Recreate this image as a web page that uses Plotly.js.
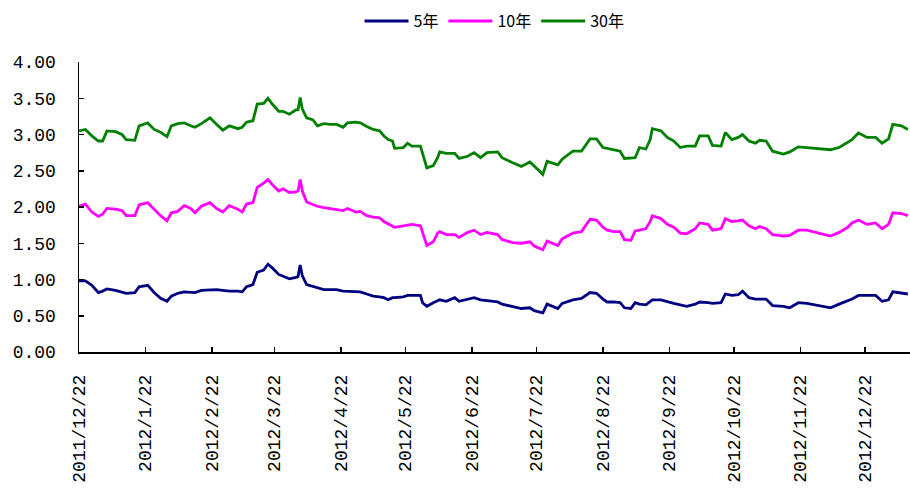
<!DOCTYPE html>
<html>
<head>
<meta charset="utf-8">
<script src="https://cdn.plot.ly/plotly-3.0.1.min.js"></script>
<style>html,body{margin:0;padding:0;background:#fff;}#chart{width:910px;height:488px;}</style>
</head>
<body>
<div id="chart"></div>
<script>
const dates = [
"2011-12-22","2011-12-25","2011-12-28","2011-12-31","2012-01-02","2012-01-04","2012-01-08","2012-01-11","2012-01-13","2012-01-17",
"2012-01-19","2012-01-23","2012-01-26","2012-01-29","2012-02-01","2012-02-03","2012-02-06","2012-02-09","2012-02-12","2012-02-14",
"2012-02-17","2012-02-21","2012-02-24","2012-02-27","2012-03-01","2012-03-05","2012-03-07","2012-03-09","2012-03-12","2012-03-14",
"2012-03-17","2012-03-19","2012-03-21","2012-03-24","2012-03-26","2012-03-29","2012-04-01","2012-04-02","2012-04-03","2012-04-04",
"2012-04-06","2012-04-09","2012-04-11","2012-04-14","2012-04-17","2012-04-20","2012-04-23","2012-04-25","2012-04-29","2012-05-01",
"2012-05-04","2012-05-07","2012-05-10","2012-05-12","2012-05-14","2012-05-16","2012-05-17","2012-05-21","2012-05-23","2012-05-25",
"2012-05-29","2012-05-30","2012-06-01","2012-06-04","2012-06-06","2012-06-07","2012-06-10","2012-06-14","2012-06-16","2012-06-20",
"2012-06-23","2012-06-26","2012-06-29","2012-07-04","2012-07-06","2012-07-11","2012-07-15","2012-07-19","2012-07-21","2012-07-25",
"2012-07-27","2012-08-01","2012-08-03","2012-08-08","2012-08-12","2012-08-16","2012-08-19","2012-08-22","2012-08-24","2012-08-27",
"2012-08-30","2012-09-01","2012-09-04","2012-09-06","2012-09-08","2012-09-11","2012-09-13","2012-09-14","2012-09-18","2012-09-21",
"2012-09-24","2012-09-27","2012-09-30","2012-10-04","2012-10-06","2012-10-10","2012-10-12","2012-10-16","2012-10-18","2012-10-21",
"2012-10-24","2012-10-26","2012-10-29","2012-11-01","2012-11-03","2012-11-06","2012-11-09","2012-11-14","2012-11-17","2012-11-21",
"2012-11-25","2012-11-30","2012-12-06","2012-12-10","2012-12-14","2012-12-16","2012-12-19","2012-12-23","2012-12-27","2012-12-30",
"2013-01-02","2013-01-04","2013-01-08","2013-01-11"
];
const y5 = [
0.98,0.98,0.92,0.82,0.84,0.87,0.85,0.83,0.81,0.82,
0.90,0.92,0.82,0.74,0.70,0.77,0.81,0.83,0.83,0.82,
0.85,0.86,0.86,0.85,0.84,0.84,0.83,0.90,0.93,1.10,
1.13,1.21,1.16,1.07,1.05,1.01,1.03,1.04,1.20,1.05,
0.93,0.90,0.89,0.86,0.86,0.86,0.84,0.84,0.83,0.83,
0.80,0.77,0.76,0.75,0.72,0.75,0.75,0.76,0.78,0.78,
0.78,0.68,0.63,0.68,0.71,0.72,0.70,0.75,0.70,0.73,
0.75,0.72,0.71,0.69,0.66,0.63,0.60,0.61,0.57,0.54,
0.66,0.60,0.67,0.72,0.74,0.82,0.81,0.73,0.69,0.69,
0.68,0.61,0.60,0.68,0.66,0.65,0.70,0.72,0.72,0.69,
0.67,0.65,0.63,0.66,0.69,0.68,0.67,0.68,0.80,0.78,
0.79,0.84,0.75,0.73,0.73,0.73,0.64,0.63,0.61,0.68,
0.67,0.64,0.61,0.66,0.70,0.73,0.78,0.78,0.78,0.70,
0.72,0.83,0.81,0.80
];
const y10 = [
2.01,2.04,1.93,1.87,1.90,1.98,1.97,1.95,1.88,1.88,
2.03,2.06,1.97,1.88,1.81,1.92,1.94,2.02,1.98,1.92,
2.01,2.06,1.98,1.93,2.02,1.97,1.93,2.04,2.06,2.27,
2.33,2.38,2.31,2.22,2.25,2.20,2.21,2.22,2.38,2.22,
2.07,2.03,2.01,1.99,1.98,1.97,1.95,1.98,1.93,1.94,
1.88,1.86,1.85,1.80,1.77,1.74,1.72,1.74,1.75,1.76,
1.74,1.65,1.47,1.52,1.64,1.66,1.62,1.62,1.58,1.65,
1.68,1.62,1.65,1.62,1.55,1.51,1.50,1.52,1.46,1.41,
1.53,1.47,1.56,1.64,1.66,1.83,1.82,1.72,1.68,1.66,
1.66,1.55,1.54,1.67,1.68,1.70,1.80,1.88,1.84,1.76,
1.72,1.64,1.63,1.70,1.78,1.76,1.68,1.70,1.84,1.80,
1.81,1.82,1.74,1.70,1.73,1.70,1.62,1.60,1.61,1.68,
1.68,1.64,1.60,1.65,1.72,1.78,1.82,1.76,1.78,1.70,
1.76,1.92,1.91,1.88
];
const y30 = [
3.05,3.07,2.98,2.91,2.91,3.05,3.04,3.00,2.93,2.92,
3.12,3.16,3.07,3.03,2.97,3.12,3.15,3.16,3.12,3.10,
3.15,3.23,3.14,3.06,3.12,3.08,3.10,3.17,3.19,3.42,
3.43,3.50,3.42,3.32,3.32,3.28,3.34,3.34,3.51,3.35,
3.23,3.20,3.12,3.15,3.14,3.14,3.10,3.16,3.17,3.16,
3.11,3.07,3.05,2.98,2.93,2.91,2.81,2.82,2.88,2.84,
2.84,2.73,2.54,2.57,2.68,2.76,2.74,2.74,2.67,2.70,
2.75,2.68,2.75,2.76,2.68,2.61,2.56,2.62,2.56,2.45,
2.63,2.58,2.66,2.77,2.77,2.94,2.94,2.82,2.81,2.79,
2.77,2.67,2.67,2.68,2.82,2.80,2.93,3.08,3.05,2.96,
2.91,2.82,2.84,2.84,2.98,2.98,2.85,2.84,3.03,2.93,
2.96,3.00,2.91,2.88,2.92,2.91,2.77,2.73,2.76,2.83,
2.82,2.81,2.79,2.82,2.89,2.93,3.02,2.96,2.96,2.88,
2.94,3.14,3.12,3.07
];
const seriesNames = ["5年","10年","30年"];
const tickDates = ["2011-12-22","2012-01-22","2012-02-22","2012-03-22","2012-04-22","2012-05-22","2012-06-22",
  "2012-07-22","2012-08-22","2012-09-22","2012-10-22","2012-11-22","2012-12-22"];
const tickLabels = ["2011/12/22","2012/1/22","2012/2/22","2012/3/22","2012/4/22","2012/5/22","2012/6/22",
  "2012/7/22","2012/8/22","2012/9/22","2012/10/22","2012/11/22","2012/12/22"];
const yTicks = [0,0.5,1,1.5,2,2.5,3,3.5,4];

const colors = ["#000080","#FF00FF","#008000"];
const ys = [y5,y10,y30];
const traces = ys.map((y,i)=>({
  x: dates, y: y, name: seriesNames[i], type: "scatter", mode: "lines",
  line: {color: colors[i], width: 2.8}
}));

const tickFont = {family: "Liberation Mono, DejaVu Sans Mono, monospace", size: 18, color: "#000"};
const layout = {
  width: 910, height: 488,
  margin: {l: 79, r: 0, t: 62, b: 136, pad: 0},
  paper_bgcolor: "#fff", plot_bgcolor: "#fff",
  showlegend: true,
  legend: {orientation: "h", x: 0.5, xanchor: "center", y: 1.141, yanchor: "middle",
    font: {family: "Noto Sans CJK SC, sans-serif", size: 16, color: "#000"},
    itemwidth: 44, tracegroupgap: 0, bgcolor: "rgba(0,0,0,0)"},
  xaxis: {
    type: "date", range: ["2011-12-22", "2013-01-12"],
    tickmode: "array", tickvals: tickDates, ticktext: tickLabels,
    tickangle: -90, tickfont: tickFont,
    ticks: "inside", ticklen: 5, tickwidth: 1.5, tickcolor: "#000",
    showline: true, linecolor: "#000", linewidth: 1.5,
    showgrid: false, zeroline: false, ticklabelstandoff: 14
  },
  yaxis: {
    range: [0, 4], tickmode: "array", tickvals: yTicks,
    tickformat: ".2f", tickfont: tickFont,
    ticks: "inside", ticklen: 5, tickwidth: 1.5, tickcolor: "#000",
    showline: true, linecolor: "#000", linewidth: 1.5,
    showgrid: false, zeroline: false, ticklabelstandoff: 18
  }
};
Plotly.newPlot("chart", traces, layout, {staticPlot: true, displayModeBar: false});
</script>
</body>
</html>
